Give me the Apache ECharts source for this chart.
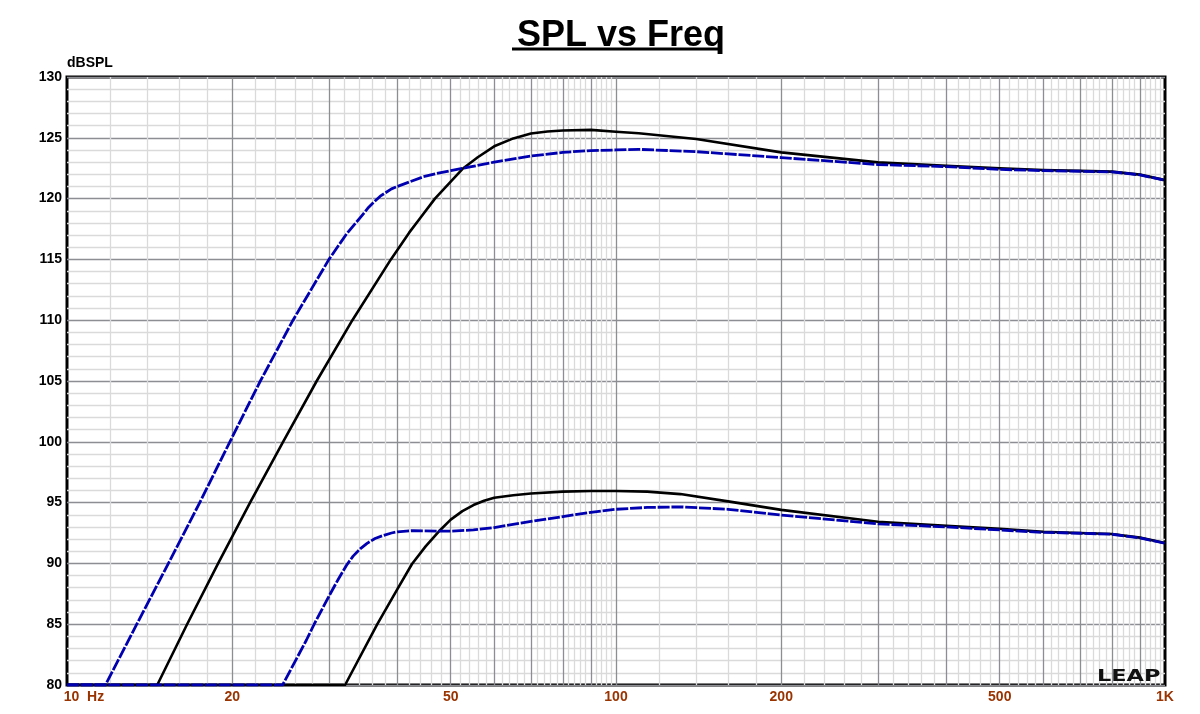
<!DOCTYPE html>
<html>
<head>
<meta charset="utf-8">
<title>SPL vs Freq</title>
<script src="https://cdn.jsdelivr.net/npm/echarts@6/dist/echarts.min.js"></script>
<style>
html,body{margin:0;padding:0;background:#fff;}
#chart{width:1200px;height:714px;}
</style>
</head>
<body>
<div id="chart"></div>
<script>
// ---- Tick labels ----
const xTickValues = [10, 20, 50, 100, 200, 500, 1000];
const xTickText = ['10  Hz', '20', '50', '100', '200', '500', '1K'];
const majorGridFreqs = [20, 30, 40, 50, 60, 70, 80, 90, 100, 200, 300, 400, 500, 600, 700, 800, 900];

// ---- Series data (frequency in Hz, level in dBSPL) ----
const hiBlackFreq = [10, 14.6, 16.55, 18.85, 21.55, 24.75, 28.5, 33.1, 38.9, 42, 44, 46.8, 50, 52.7, 56, 60, 65, 70, 75, 80, 90, 100, 110, 140, 200, 300, 400, 500, 600, 700, 800, 900, 1000];
const hiBlackDb   = [80, 80, 85, 90, 95, 100, 105, 110, 115, 117.2, 118.4, 120, 121.4, 122.5, 123.4, 124.3, 124.95, 125.35, 125.52, 125.6, 125.65, 125.5, 125.37, 124.9, 123.8, 122.98, 122.7, 122.5, 122.35, 122.28, 122.22, 121.97, 121.52];

const hiBlueFreq = [10, 11.75, 13.4, 15.3, 17.45, 19.8, 22.5, 25.8, 30, 32.3, 34.3, 35.3, 36.4, 37.2, 38.1, 39, 40, 42.2, 44.6, 47, 50, 54.2, 60, 70, 80, 90, 100, 110, 140, 200, 300, 400, 500, 600, 700, 800, 900, 1000];
const hiBlueDb   = [80, 80, 85, 90, 95, 100, 105, 110, 115, 117.1, 118.5, 119.2, 119.8, 120.2, 120.5, 120.8, 121.0, 121.4, 121.8, 122.05, 122.3, 122.6, 123.0, 123.5, 123.8, 123.95, 124.0, 124.05, 123.86, 123.37, 122.8, 122.63, 122.4, 122.3, 122.25, 122.2, 121.95, 121.5];

const loBlackFreq = [10, 32.1, 36.75, 40, 42.5, 45, 47.5, 50, 52.5, 55, 57.5, 60, 65, 70, 80, 90, 100, 114, 131, 160, 200, 300, 400, 500, 600, 700, 800, 900, 1000];
const loBlackDb   = [80, 80, 85, 87.9, 89.95, 91.4, 92.6, 93.6, 94.3, 94.8, 95.15, 95.4, 95.6, 95.75, 95.9, 95.95, 95.95, 95.9, 95.7, 95.1, 94.4, 93.43, 93.1, 92.85, 92.6, 92.5, 92.42, 92.12, 91.67];

const loBlueFreq = [10, 24.7, 27.3, 28.2, 30, 31.2, 32.3, 33.2, 34.2, 35.2, 36.4, 37.7, 39, 40, 42.7, 47.5, 50, 55, 60, 70, 80, 90, 100, 114, 131, 160, 200, 300, 400, 500, 600, 700, 800, 900, 1000];
const loBlueDb   = [80, 80, 83.7, 85, 87.3, 88.7, 89.85, 90.6, 91.2, 91.65, 92.05, 92.3, 92.5, 92.6, 92.7, 92.65, 92.65, 92.75, 92.95, 93.45, 93.85, 94.2, 94.45, 94.6, 94.65, 94.45, 93.97, 93.25, 93.0, 92.75, 92.55, 92.48, 92.4, 92.1, 91.65];

function pairs(f, v) { return f.map((x, i) => [x, v[i]]); }

// minor vertical grid: every 2 Hz in 10..100, every 20 Hz in 100..1000 (skipping majors)
const minorGridFreqs = [];
for (let d = 10; d < 1000; d *= 10) {
  for (let k = 1.2; k < 10; k += 0.2) {
    const v = Math.round(k * d * 100) / 100;
    if (Math.abs(k - Math.round(k)) > 1e-6) minorGridFreqs.push(v);
  }
}

const FONT = '"Liberation Sans", Arial, sans-serif';
const BLUE = '#0000b0';

const chart = echarts.init(document.getElementById('chart'), null, {renderer: 'canvas'});
const option = {
  animation: false,
  backgroundColor: '#ffffff',
  title: {
    text: 'SPL vs Freq',
    left: 616,
    textAlign: 'center',
    top: 13,
    textStyle: {fontFamily: FONT, fontSize: 36, fontWeight: 'bold', color: '#000'}
  },
  grid: {
    left: 67, right: 35, top: 77, bottom: 29,
    show: true, borderColor: '#000', borderWidth: 3, backgroundColor: '#fff'
  },
  xAxis: {
    type: 'log', logBase: 10, min: 10, max: 1000,
    axisLine: {show: false},
    axisTick: {show: false},
    splitLine: {show: false},
    minorSplitLine: {show: false},
    axisLabel: {
      customValues: xTickValues,
      fontFamily: FONT, fontSize: 14, fontWeight: 'bold', color: '#993300', margin: 5,
      formatter: function (v) {
        const i = xTickValues.findIndex(t => Math.abs(t - v) < 1e-6);
        const s = i >= 0 ? xTickText[i] : String(v);
        return i === 0 ? '{l|' + s + '}' : s;
      },
      rich: {l: {padding: [0, 0, 0, 34], fontFamily: FONT, fontSize: 14, fontWeight: 'bold', color: '#993300'}}
    }
  },
  yAxis: {
    type: 'value', min: 80, max: 130, interval: 5,
    name: 'dBSPL', nameLocation: 'end', nameGap: 1,
    nameTextStyle: {fontFamily: FONT, fontSize: 14, fontWeight: 'bold', color: '#000', align: 'left'},
    axisLine: {show: false},
    axisTick: {show: false},
    axisLabel: {fontFamily: FONT, fontSize: 14, fontWeight: 'bold', color: '#000', margin: 5},
    splitLine: {show: true, lineStyle: {color: '#8d8d94', width: 1.3}},
    minorTick: {show: false, splitNumber: 5},
    minorSplitLine: {show: true, lineStyle: {color: '#dadada', width: 1.3}}
  },
  graphic: [
    {type: 'line', z: 100, shape: {x1: 512, y1: 49, x2: 722, y2: 49}, style: {stroke: '#000', lineWidth: 3}},
    {type: 'text', z: 100, x: 1097, y: 669, scaleX: 1.4,
     style: {text: 'LEAP', font: '900 16px "DejaVu Sans", sans-serif', fill: '#111'}}
  ],
  series: [
    {
      name: 'gridMinor', type: 'line', data: [], z: 1, silent: true,
      markLine: {
        silent: true, symbol: ['none', 'none'], label: {show: false}, animation: false,
        lineStyle: {type: 'solid', color: '#dadada', width: 1.3},
        emphasis: {disabled: true},
        data: minorGridFreqs.map(v => ({xAxis: v}))
      }
    },
    {
      name: 'gridMajor', type: 'line', data: [], z: 2, silent: true,
      markLine: {
        silent: true, symbol: ['none', 'none'], label: {show: false}, animation: false,
        lineStyle: {type: 'solid', color: '#8d8d94', width: 1.3},
        emphasis: {disabled: true},
        data: majorGridFreqs.map(v => ({xAxis: v}))
      }
    },
    {
      name: 'hiBlack', type: 'line', z: 5, showSymbol: false, smooth: false,
      lineStyle: {color: '#000', width: 2.6, join: 'round'}, itemStyle: {color: '#000'},
      data: pairs(hiBlackFreq, hiBlackDb)
    },
    {
      name: 'loBlack', type: 'line', z: 5, showSymbol: false, smooth: false,
      lineStyle: {color: '#000', width: 2.6, join: 'round'}, itemStyle: {color: '#000'},
      data: pairs(loBlackFreq, loBlackDb)
    },
    {
      name: 'hiBlue', type: 'line', z: 6, showSymbol: false, smooth: false,
      lineStyle: {color: BLUE, width: 2.8, type: [12, 1.8], join: 'round'}, itemStyle: {color: BLUE},
      data: pairs(hiBlueFreq, hiBlueDb)
    },
    {
      name: 'loBlue', type: 'line', z: 6, showSymbol: false, smooth: false,
      lineStyle: {color: BLUE, width: 2.8, type: [12, 1.8], join: 'round'}, itemStyle: {color: BLUE},
      data: pairs(loBlueFreq, loBlueDb)
    }
  ]
};
chart.setOption(option);
</script>
</body>
</html>
